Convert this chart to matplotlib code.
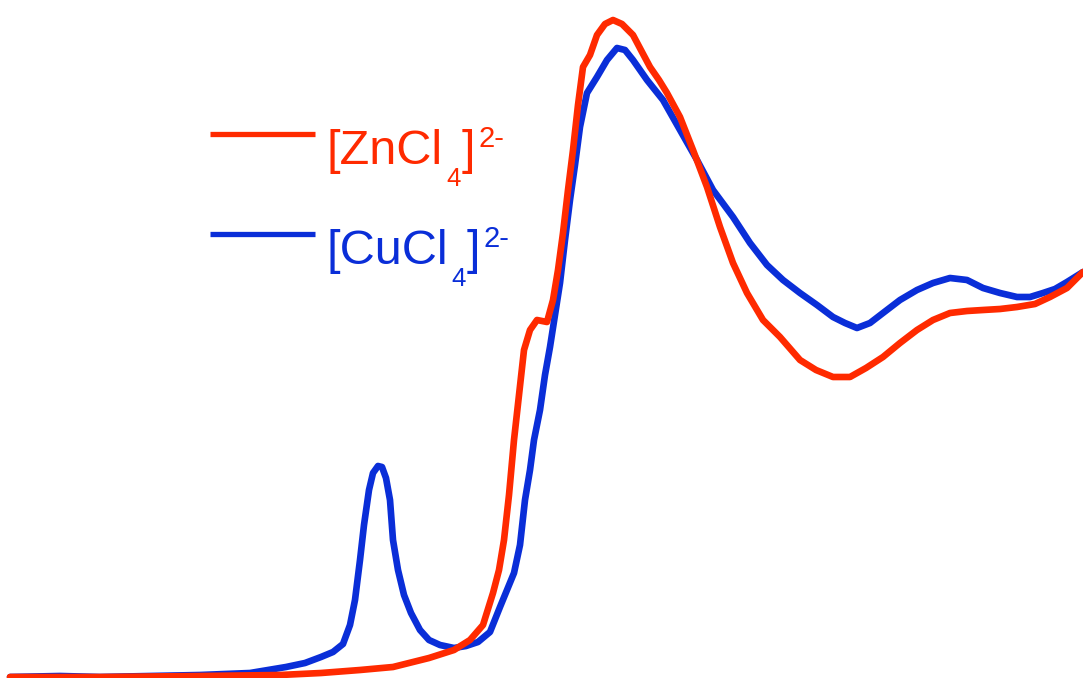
import matplotlib
matplotlib.use("Agg")
import matplotlib.pyplot as plt

plt.rcParams['font.family'] = ['Liberation Sans', 'DejaVu Sans']

H = 678.0
# ZnCl4 2- spectrum (arbitrary units)
zn_x = [10, 100, 200, 280, 321, 360, 393, 429, 454, 470, 483, 493, 499, 504, 509, 514, 519, 524,
        530, 537, 547, 553, 558, 563, 568, 573, 578, 583, 590, 597, 605, 613, 622, 633, 642, 650,
        659, 667, 680, 693, 707, 720, 733, 747, 763, 780, 800, 816, 833, 850, 866, 883, 900, 917,
        933, 950, 967, 983, 1000, 1017, 1035, 1050, 1067, 1083]
zn_y = [1, 1, 2, 3, 5, 8, 11, 20, 28, 38, 53, 85, 108, 138, 183, 238, 283, 328,
        348, 358, 356, 378, 408, 445, 488, 528, 573, 611, 623, 643, 654, 658, 654, 643, 626, 611,
        598, 585, 561, 528, 491, 451, 415, 385, 358, 341, 318, 308, 301, 301, 310, 321, 335, 348,
        358, 365, 367, 368, 369, 371, 374, 381, 390, 406]

# CuCl4 2- spectrum
cu_x = [10, 60, 100, 150, 200, 250, 286, 305, 321, 333, 343, 350, 355, 360, 364, 369, 373, 378,
        382, 386, 390, 393, 398, 404, 411, 420, 429, 440, 454, 466, 478, 490, 500, 507, 514, 520,
        525, 530, 534, 540, 545, 550, 555, 560, 565, 570, 575, 580, 587, 597, 607, 617, 625, 633,
        647, 663, 680, 697, 713, 733, 750, 767, 783, 800, 817, 833, 845, 857, 870, 883, 900, 917,
        933, 950, 967, 983, 1000, 1017, 1030, 1043, 1055, 1067, 1083]
cu_y = [1, 2, 1, 2, 3, 5, 11, 15, 21, 26, 34, 53, 78, 118, 153, 188, 205, 212,
        211, 200, 178, 138, 108, 83, 65, 48, 38, 33, 30, 32, 36, 46, 71, 88, 105, 133,
        178, 208, 238, 268, 303, 331, 363, 395, 438, 478, 513, 551, 585, 601, 618, 630, 628, 618,
        598, 578, 548, 518, 488, 461, 435, 413, 398, 385, 373, 361, 355, 350, 355, 365, 378, 388,
        395, 400, 398, 390, 385, 381, 381, 385, 389, 396, 406]

# legend label pieces: (main, subscript, closing, superscript)
label_parts = [("[ZnCl", "4", "]", "2-"), ("[CuCl", "4", "]", "2-")]
colors = ['#ff2a00', '#0a2ed8']

fig = plt.figure(figsize=(10.83, 6.78), dpi=100)
ax = fig.add_axes([0, 0, 1, 1])
ax.set_xlim(0, 1083)
ax.set_ylim(0, H)
ax.axis('off')

ax.plot(cu_x, cu_y, color=colors[1], lw=4.8, solid_capstyle='round', solid_joinstyle='round')
ax.plot(zn_x, zn_y, color=colors[0], lw=4.8, solid_capstyle='round', solid_joinstyle='round')

renderer = fig.canvas.get_renderer()


def put(x, y, s, size, color):
    t = ax.text(x, y, s, color=color, fontsize=size, va='baseline', ha='left')
    bb = t.get_window_extent(renderer=renderer)
    return bb.x1


# legend
for i, (parts, c) in enumerate(zip(label_parts, colors)):
    ly = H - 134 - 100 * i
    ax.plot([210, 315], [ly, ly], color=c, lw=3.8, solid_capstyle='butt')
    base = H - 164 - 100 * i
    x = put(326, base, parts[0], 35, c)
    x = put(x + 4, base - 22, parts[1], 18.5, c)
    x = put(x + 1, base, parts[2], 35, c)
    put(x + 3, base + 17, parts[3], 21, c)

fig.savefig('out.png', dpi=100)
